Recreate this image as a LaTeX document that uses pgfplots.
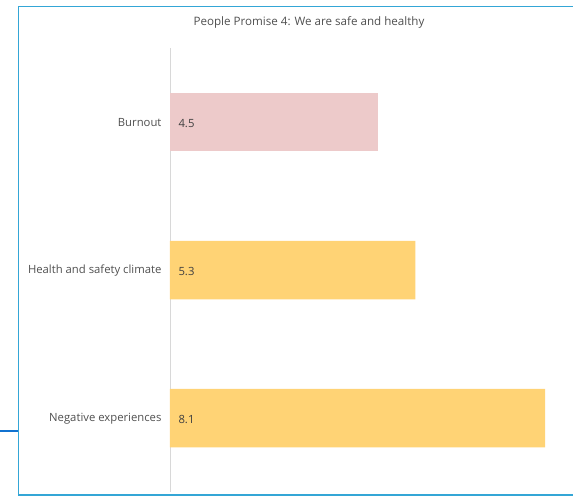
\documentclass[border=0pt]{standalone}
\usepackage{pgfplots}
\pgfplotsset{compat=1.18}
\usepackage{fontspec}
\setmainfont{Open Sans}
\definecolor{framecol}{HTML}{34A6D6}
\definecolor{linkcol}{HTML}{1172D0}
\definecolor{pinkbar}{HTML}{EDCACA}
\definecolor{yellowbar}{HTML}{FFD375}
\definecolor{txt}{HTML}{4F4F4F}
\definecolor{valtxt}{HTML}{404040}
\definecolor{axcol}{HTML}{D8D8D8}
\begin{document}
\begin{tikzpicture}[x=1pt,y=1pt]
\useasboundingbox (0,0) rectangle (573,499);
% frame
\draw[framecol, line width=1.6pt] (573,492.5) -- (18.5,492.5) -- (18.5,4) -- (573,4);
\draw[linkcol, line width=2.2pt] (0,68) -- (18,68);
\node[txt, font=\fontsize{11.6}{13}\selectfont] at (309,477) {People Promise 4: We are safe and healthy};
\begin{axis}[
  at={(170pt,7pt)}, anchor=south west,
  scale only axis, width=390pt, height=444pt,
  xmin=0, xmax=8.42, ymin=-0.5, ymax=2.5,
  axis x line=none,
  axis y line*=left,
  y axis line style={axcol, line width=0.7pt, -},
  ytick={0,1,2},
  yticklabels={Negative experiences, Health and safety climate, Burnout},
  yticklabel style={txt, font=\fontsize{11.3}{13}\selectfont, xshift=-5pt, yshift=-0.8pt},
  major tick length=0pt,
  clip=false,
]
\addplot[xbar, bar width=58.5pt, bar shift=0pt, fill=pinkbar, draw=none]
  coordinates {(4.5,2)};
\addplot[xbar, bar width=58.5pt, bar shift=0pt, fill=yellowbar, draw=none]
  coordinates {(5.3,1) (8.1,0)};
\addplot[draw=none, mark=none, nodes near coords, point meta=explicit symbolic,
  every node near coord/.append style={anchor=west, xshift=5pt, yshift=-1.3pt, valtxt, font=\fontsize{11.3}{13}\selectfont}]
  coordinates {(0,2)[4.5] (0,1)[5.3] (0,0)[8.1]};
\end{axis}
\end{tikzpicture}
\end{document}
